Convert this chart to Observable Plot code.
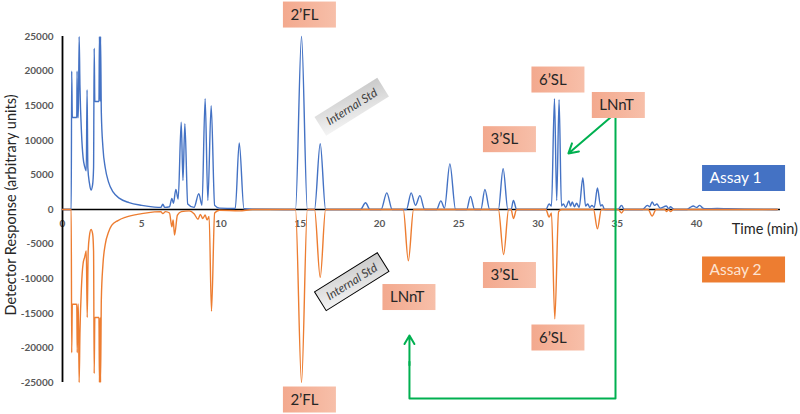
<!DOCTYPE html>
<html>
<head>
<meta charset="utf-8">
<script src="https://cdn.jsdelivr.net/npm/d3@7"></script>
<script src="https://cdn.jsdelivr.net/npm/@observablehq/plot@0.6"></script>
<style>
  html, body { margin: 0; padding: 0; background: #fff; }
  #chart { width: 800px; height: 414px; }
</style>
</head>
<body>
<div id="chart"></div>
<script>
// ---- Data (time in min, detector response in arbitrary units) ----
const xTicks = [0, 5, 10, 15, 20, 25, 30, 35, 40];
const yTicks = [-25000, -20000, -15000, -10000, -5000, 0, 5000, 10000, 15000, 20000, 25000];

const assay1 = [
  [0, 0], [0.55, 0], [0.58, 20000], [0.62, 13300], [0.9, 13300], [0.92, 20000], [0.95, 13300], [1.0, 13300],
  [1.05, 25000], [1.1, 18000], [1.2, 11000], [1.3, 7500], [1.4, 6200], [1.5, 5600], [1.55, 17300], [1.6, 6000],
  [1.7, 3800], [1.8, 2800], [1.9, 3600], [1.96, 6000], [2.0, 23300], [2.04, 15600], [2.3, 15600], [2.33, 25000],
  [2.37, 15600], [2.4, 25000], [2.45, 14000], [2.55, 9000], [2.7, 6000], [2.9, 4000], [3.2, 2500], [3.6, 1600],
  [4.2, 1000], [5.0, 600], [5.8, 350], [6.2, 300], [6.33, 750], [6.45, 300], [6.75, 400], [6.9, 1600], [7.0, 900],
  [7.15, 2900], [7.3, 1500], [7.49, 12600], [7.6, 4200], [7.72, 12400], [7.9, 800], [8.3, 300], [8.6, 2300],
  [8.8, 600], [9.0, 16000], [9.17, 1300], [9.38, 15000], [9.6, 600], [9.9, 200], [10.9, 150], [11.15, 9600],
  [11.45, 100], [12, 50], [14.7, 0], [15.08, 25000], [15.45, 0], [15.9, 0], [16.26, 9500], [16.6, 0],
  [18.8, 0], [19.12, 970], [19.4, 0], [20.1, 0], [20.46, 2400], [20.8, 0], [21.7, 0], [22.0, 2400], [22.27, 600],
  [22.55, 2000], [22.85, 0], [23.6, 0], [23.87, 1250], [24.1, 200], [24.44, 6600], [24.8, 0], [25.5, 0],
  [25.74, 1900], [26.0, 0], [26.4, 0], [26.65, 2900], [26.95, 0], [27.5, 0], [27.8, 5900], [28.1, 0], [28.3, 0],
  [28.45, 1300], [28.65, 0], [30.5, 0], [30.7, 800], [30.85, 500], [31.04, 16000], [31.18, 1300], [31.33, 15850],
  [31.48, 500], [31.6, 800], [31.75, 300], [31.95, 1250], [32.05, 500], [32.16, 1100], [32.3, 400], [32.43, 900],
  [32.6, 300], [32.83, 4600], [33.0, 500], [33.14, 800], [33.27, 300], [33.4, 600], [33.55, 300], [33.75, 3100],
  [33.95, 500], [34.05, 700], [34.2, 0], [35.05, 0], [35.27, 600], [35.45, 0], [36.6, 0], [36.9, 600],
  [37.05, 400], [37.2, 1100], [37.35, 600], [37.5, 800], [37.7, 200], [38.1, 500], [38.25, 100], [38.36, 400],
  [38.6, 0], [39.4, 0], [39.6, 300], [39.8, 500], [40.0, 300], [40.2, 600], [40.4, 200], [40.6, 100],
  [41.3, 150], [42, 100], [43, 50], [45.1, 0]
];

const assay2 = [
  [0, 0], [0.55, 0], [0.58, -20700], [0.62, -13700], [0.9, -13700], [0.93, -20700], [0.97, -13700], [1.0, -13700],
  [1.05, -25000], [1.1, -18000], [1.2, -11000], [1.3, -7800], [1.4, -6900], [1.5, -6000], [1.56, -15600],
  [1.62, -6000], [1.7, -3800], [1.8, -2900], [1.9, -3500], [1.96, -6000], [2.0, -23700], [2.04, -15600],
  [2.3, -15600], [2.33, -25000], [2.37, -15600], [2.4, -25000], [2.45, -13000], [2.55, -8000], [2.7, -5000],
  [2.9, -3300], [3.1, -2300], [3.5, -1600], [4.0, -1100], [5.0, -600], [5.8, -350], [6.2, -300], [6.33, -600],
  [6.5, -300], [6.75, -500], [6.9, -2500], [6.98, -1500], [7.07, -3700], [7.25, -800], [7.5, -300], [8.0, -200],
  [8.3, -600], [8.55, -1400], [8.7, -700], [8.85, -1300], [9.0, -800], [9.12, -1500], [9.25, -1000],
  [9.4, -14700], [9.6, -500], [9.9, -100], [11.15, -200], [12, 0], [14.7, 0], [15.08, -25000], [15.45, 0],
  [15.9, 0], [16.26, -9800], [16.6, 0], [21.5, 0], [21.82, -7400], [22.15, 0], [27.5, 0], [27.83, -6500],
  [28.15, 0], [28.3, 0], [28.45, -1300], [28.65, 0], [30.5, 0], [30.7, -1100], [30.85, -500], [31.06, -15800],
  [31.3, -300], [31.5, 0], [33.5, 0], [33.75, -2800], [34.0, 0], [35.05, 0], [35.27, -500], [35.45, 0],
  [36.95, 0], [37.2, -950], [37.45, 0], [38.0, 0], [38.1, -300], [38.25, 0], [38.36, -300], [38.55, 0], [45.1, 0]
];

// ---- Annotations (positions in data space: time, response) ----
const peakLabels = [
  {label: "2’FL", t: 15.61, v: 28100},
  {label: "2’FL", t: 15.61, v: -27530},
  {label: "3’SL", t: 28.23, v: 10090},
  {label: "3’SL", t: 28.23, v: -9540},
  {label: "6’SL", t: 31.29, v: 18710},
  {label: "6’SL", t: 31.29, v: -18570},
  {label: "LNnT", t: 35.10, v: 15030},
  {label: "LNnT", t: 21.89, v: -12720}
];
const assayLabels = [
  {label: "Assay 1", t: 43.0, v: 4480, fill: "#4472C4", color: "#ffffff"},
  {label: "Assay 2", t: 43.0, v: -8740, fill: "#ED7D31", color: "#fde3d2"}
];
const stdLabels = [
  {label: "Internal Std", t: 18.28, v: 14780, border: false},
  {label: "Internal Std", t: 18.28, v: -10500, border: true}
];
const bracketPath = [[34.89, 13300], [34.89, -27300], [21.89, -27300], [21.89, -22000]];
const arrowSegments = [
  {t1: 34.57, v1: 13300, t2: 31.92, v2: 8100},
  {t1: 21.89, v1: -22500, t2: 21.89, v2: -18200}
];

const xMax = 45.3;
const blue = "#4472C4", orange = "#ED7D31", green = "#00B050";

const chart = Plot.plot({
  width: 800,
  height: 414,
  marginLeft: 62,
  marginRight: 20,
  marginTop: 36,
  marginBottom: 32,
  style: {fontFamily: "Lato, 'Open Sans', sans-serif", background: "#ffffff", overflow: "visible"},
  x: {domain: [0, xMax], axis: null},
  y: {domain: [-25000, 25000], axis: null},
  marks: [
    Plot.text(yTicks, {
      x: 0, y: d => d, text: d => String(d), textAnchor: "end", dx: -9,
      fontSize: 10, fontWeight: "bold", fill: "#595959"
    }),
    Plot.text(xTicks, {
      x: d => d, y: 0, text: d => String(d), dy: 14,
      fontSize: 10, fontWeight: "bold", fill: "#595959"
    }),
    Plot.ruleY([0], {x1: 0, x2: xMax, stroke: "#000", strokeWidth: 1.5}),
    Plot.ruleX([0], {y1: -25000, y2: 25000, stroke: "#000", strokeWidth: 1.8}),
    Plot.line(assay1, {x: d => d[0], y: d => d[1], stroke: blue, strokeWidth: 1.4, curve: "monotone-x"}),
    Plot.line(assay2, {x: d => d[0], y: d => d[1], stroke: orange, strokeWidth: 1.4, curve: "monotone-x"}),
    Plot.line(bracketPath, {x: d => d[0], y: d => d[1], stroke: green, strokeWidth: 2}),
    Plot.arrow(arrowSegments, {
      x1: "t1", y1: "v1", x2: "t2", y2: "v2", stroke: green, strokeWidth: 2, headLength: 8
    })
  ]
});

document.getElementById("chart").appendChild(chart);

// ---- Annotation boxes drawn with the plot's own scales ----
const sx = chart.scale("x"), sy = chart.scale("y");
const svg = d3.select(chart);

const defs = svg.append("defs");
const sg = defs.append("linearGradient").attr("id", "stdGrad")
  .attr("x1", "0").attr("y1", "1").attr("x2", "1").attr("y2", "0");
sg.append("stop").attr("offset", "0%").attr("stop-color", "#f4f4f4");
sg.append("stop").attr("offset", "100%").attr("stop-color", "#c9c9c9");
const pg = defs.append("linearGradient").attr("id", "peakGrad")
  .attr("x1", "0").attr("y1", "0").attr("x2", "1").attr("y2", "0");
pg.append("stop").attr("offset", "0%").attr("stop-color", "#F3A98E");
pg.append("stop").attr("offset", "100%").attr("stop-color", "#F7BFA9");

const font = "Lato, 'Open Sans', sans-serif";

peakLabels.forEach(d => {
  const cx = sx.apply(d.t), cy = sy.apply(d.v);
  const g = svg.append("g").attr("transform", `translate(${cx},${cy})`);
  g.append("rect").attr("x", -26.5).attr("y", -13).attr("width", 53).attr("height", 26)
    .attr("fill", "url(#peakGrad)");
  g.append("text").attr("x", -19).attr("y", 0).attr("dy", "0.35em").attr("text-anchor", "start")
    .attr("font-family", font).attr("font-size", 15).attr("fill", "#262626").text(d.label);
});

assayLabels.forEach(d => {
  const cx = sx.apply(d.t), cy = sy.apply(d.v);
  const g = svg.append("g").attr("transform", `translate(${cx},${cy})`);
  g.append("rect").attr("x", -41.5).attr("y", -13).attr("width", 83).attr("height", 26)
    .attr("fill", d.fill);
  g.append("text").attr("x", -34).attr("y", 0).attr("dy", "0.35em").attr("text-anchor", "start")
    .attr("font-family", font).attr("font-size", 15.5).attr("fill", d.color).text(d.label);
});

stdLabels.forEach(d => {
  const cx = sx.apply(d.t), cy = sy.apply(d.v);
  const g = svg.append("g").attr("transform", `translate(${cx},${cy}) rotate(-32)`);
  g.append("rect").attr("x", -37).attr("y", -11).attr("width", 74).attr("height", 22)
    .attr("fill", "url(#stdGrad)")
    .attr("stroke", d.border ? "#000" : "none").attr("stroke-width", 1);
  g.append("text").attr("text-anchor", "middle").attr("dy", "0.35em")
    .attr("font-family", font).attr("font-style", "italic").attr("font-size", 12)
    .attr("fill", "#404040").text(d.label);
});

// Axis titles
svg.append("text")
  .attr("transform", `translate(11,${sy.apply(0) - 4}) rotate(-90)`)
  .attr("text-anchor", "middle").attr("dy", "0.35em")
  .attr("font-family", font).attr("font-size", 14.5).attr("fill", "#262626")
  .text("Detector Response (arbitrary units)");

svg.append("text")
  .attr("x", 798).attr("y", sy.apply(0) + 20).attr("text-anchor", "end").attr("dy", "0.35em")
  .attr("font-family", font).attr("font-size", 14.5).attr("fill", "#262626")
  .text("Time (min)");
</script>
</body>
</html>
